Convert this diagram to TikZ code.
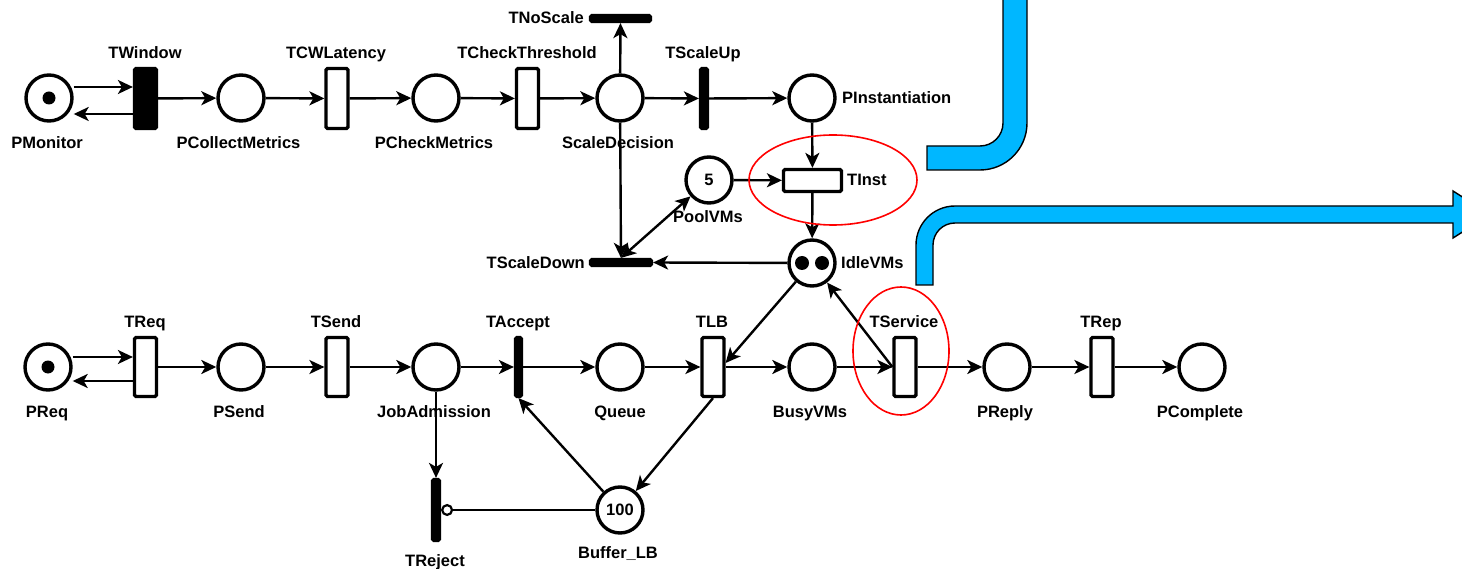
\documentclass[tikz,border=0pt]{standalone}
\usepackage{fontspec}
\setmainfont{Liberation Sans}
\usetikzlibrary{arrows.meta}
\definecolor{flowblue}{RGB}{0,183,255}
\newcommand\lblfont{\fontsize{16.5}{19}\selectfont\bfseries}
\begin{document}
\begin{tikzpicture}[x=1pt,y=-1pt,
  place/.style={circle, draw, line width=3.4pt, minimum size=46pt, inner sep=0pt, font=\lblfont},
  trans/.style={rectangle, draw, line width=3.2pt, rounded corners=1.5pt, fill=white, inner sep=0pt, minimum width=22pt, minimum height=60pt},
  imm/.style={trans, fill=black, minimum width=7pt},
  hbar/.style={trans, fill=black, minimum width=60pt, minimum height=6pt},
  lbl/.style={inner sep=0pt, font=\lblfont},
  pnarc/.style={line width=2.4pt, -{Stealth[length=15pt,width=14pt,inset=4pt]}},
  pnarcb/.style={line width=2.4pt, {Stealth[length=15pt,width=14pt,inset=4pt]}-{Stealth[length=15pt,width=14pt,inset=4pt]}},
  inhib/.style={line width=2.4pt, -{Circle[open,length=12pt,width=12pt,line width=2.2pt]}},
  token/.style={fill=black},
  hilite/.style={draw=red, line width=1.6pt},
  band/.style={draw=black, line width=1.4pt, fill=flowblue}
]
\useasboundingbox (0,0) rectangle (1462,569);
\fill[white] (0,0) rectangle (1462,569);

% ---------- blue bands ----------
\path[band] (1027,-5) -- (1027,123) arc[start angle=0,end angle=90,radius=47]
  -- (927,170) -- (927,146) -- (980,146) arc[start angle=90,end angle=0,radius=23]
  -- (1003,-5) -- cycle;
\path[band] (916,285) -- (916,245) arc[start angle=180,end angle=270,radius=39]
  -- (1453,206) -- (1453,191) -- (1490,214.5) -- (1453,238) -- (1453,223)
  -- (955,223) arc[start angle=270,end angle=180,radius=22]
  -- (933,285) -- cycle;

% ---------- top row ----------
\node[place] (PMonitor) at (49,98) {};
\node[trans, fill=black] (TWindow) at (145.5,98.5) {};
\node[place] (PCollectMetrics) at (241,98) {};
\node[trans] (TCWLatency) at (337,98.5) {};
\node[place] (PCheckMetrics) at (436,98) {};
\node[trans] (TCheckThreshold) at (527.5,98.5) {};
\node[place] (ScaleDecision) at (620,98) {};
\node[hbar] (TNoScale) at (620.5,18.5) {};
\node[imm] (TScaleUp) at (704,98.5) {};
\node[place] (PInstantiation) at (812,98) {};
\node[trans, minimum width=58pt, minimum height=22pt] (TInst) at (812.5,180.5) {};
\node[place] (PoolVMs) at (709,180) {5};
\node[place] (IdleVMs) at (812,263) {};
\node[hbar, minimum width=61pt] (TScaleDown) at (621,262.5) {};

\fill[token] (PMonitor.center) circle (6.5);
\fill[token] ([xshift=-10pt]IdleVMs.center) circle (7);
\fill[token] ([xshift=10pt]IdleVMs.center) circle (7);

% ---------- bottom row ----------
\node[place] (PReq) at (48,367) {};
\node[trans, minimum height=59pt] (TReq) at (145.5,367) {};
\node[place] (PSend) at (241,367) {};
\node[trans, minimum height=59pt] (TSend) at (337,367) {};
\node[place] (JobAdmission) at (436,367) {};
\node[imm, minimum width=6pt, minimum height=59pt] (TAccept) at (518.5,367) {};
\node[place] (Queue) at (620,367) {};
\node[trans, minimum height=59pt] (TLB) at (713,367) {};
\node[place] (BusyVMs) at (812,367) {};
\node[trans, minimum height=59pt] (TService) at (905,367) {};
\node[place] (PReply) at (1007,367) {};
\node[trans, minimum height=59pt] (TRep) at (1102,367) {};
\node[place] (PComplete) at (1202,367) {};
\node[place] (BufferLB) at (620,510) {100};
\node[imm, minimum height=61pt] (TReject) at (436,510) {};

\fill[token] (PReq.center) circle (6.5);

% ---------- labels ----------
\node[lbl, anchor=base] (lPMonitor) at (47,149) {PMonitor};
\node[lbl, anchor=base] (lTWindow) at (145,59) {TWindow};
\node[lbl, anchor=base] (lPCollectMetrics) at (238.5,149) {PCollectMetrics};
\node[lbl, anchor=base] (lTCWLatency) at (336,59) {TCWLatency};
\node[lbl, anchor=base] (lPCheckMetrics) at (434,149) {PCheckMetrics};
\node[lbl, anchor=base] (lTCheckThreshold) at (527,59) {TCheckThreshold};
\node[lbl, anchor=base] (lScaleDecision) at (618,149) {ScaleDecision};
\node[lbl, anchor=base east] (lTNoScale) at (584,24) {TNoScale};
\node[lbl, anchor=base] (lTScaleUp) at (703,59) {TScaleUp};
\node[lbl, anchor=base west] (lPInstantiation) at (842,104) {PInstantiation};
\node[lbl, anchor=base west] (lTInst) at (847,186) {TInst};
\node[lbl, anchor=base] (lPoolVMs) at (708,223) {PoolVMs};
\node[lbl, anchor=base east] (lTScaleDown) at (585,269) {TScaleDown};
\node[lbl, anchor=base west] (lIdleVMs) at (841,269) {IdleVMs};

\node[lbl, anchor=base] (lPReq) at (47,417) {PReq};
\node[lbl, anchor=base] (lTReq) at (145,328) {TReq};
\node[lbl, anchor=base] (lPSend) at (239,417) {PSend};
\node[lbl, anchor=base] (lTSend) at (336,328) {TSend};
\node[lbl, anchor=base] (lJobAdmission) at (434,417) {JobAdmission};
\node[lbl, anchor=base] (lTAccept) at (518,328) {TAccept};
\node[lbl, anchor=base] (lQueue) at (620,417) {Queue};
\node[lbl, anchor=base] (lTLB) at (712,328) {TLB};
\node[lbl, anchor=base] (lBusyVMs) at (810,417) {BusyVMs};
\node[lbl, anchor=base] (lTService) at (904,328) {TService};
\node[lbl, anchor=base] (lPReply) at (1005,417) {PReply};
\node[lbl, anchor=base] (lTRep) at (1101,328) {TRep};
\node[lbl, anchor=base] (lPComplete) at (1200,417) {PComplete};
\node[lbl, anchor=base] (lBufferLB) at (618,558) {Buffer\_LB};
\node[lbl, anchor=base] (lTReject) at (435,566) {TReject};

% ---------- arcs: top ----------
\draw[pnarc] ([yshift=11pt]PMonitor.east) -- ([yshift=11pt]PMonitor.east -| TWindow.west);
\draw[pnarc] ([yshift=-16pt]PMonitor.east -| TWindow.west) -- ([yshift=-16pt]PMonitor.east);
\draw[pnarc] (TWindow) -- (PCollectMetrics);
\draw[pnarc] (PCollectMetrics) -- (TCWLatency);
\draw[pnarc] (TCWLatency) -- (PCheckMetrics);
\draw[pnarc] (PCheckMetrics) -- (TCheckThreshold);
\draw[pnarc] (TCheckThreshold) -- (ScaleDecision);
\draw[pnarc] (ScaleDecision) -- (TNoScale.south);
\draw[pnarc] (ScaleDecision) -- (TScaleUp);
\draw[pnarc] (TScaleUp) -- (PInstantiation);
\draw[pnarc] (ScaleDecision) -- (TScaleDown.north);
\draw[pnarcb] (TScaleDown.north) -- (PoolVMs);
\draw[pnarc] (PInstantiation) -- (TInst);
\draw[pnarc] (PoolVMs) -- (TInst);
\draw[pnarc] (TInst) -- (IdleVMs);
\draw[pnarc] (IdleVMs) -- (TScaleDown.east);

% ---------- arcs: bottom ----------
\draw[pnarc] ([yshift=10pt]PReq.east) -- ([yshift=10pt]PReq.east -| TReq.west);
\draw[pnarc] ([yshift=-14pt]PReq.east -| TReq.west) -- ([yshift=-14pt]PReq.east);
\draw[pnarc] (TReq) -- (PSend);
\draw[pnarc] (PSend) -- (TSend);
\draw[pnarc] (TSend) -- (JobAdmission);
\draw[pnarc] (JobAdmission) -- (TAccept);
\draw[pnarc] (TAccept) -- (Queue);
\draw[pnarc] (Queue) -- (TLB);
\draw[pnarc] (TLB) -- (BusyVMs);
\draw[pnarc] (BusyVMs) -- (TService);
\draw[pnarc] (TService) -- (PReply);
\draw[pnarc] (PReply) -- (TRep);
\draw[pnarc] (TRep) -- (PComplete);
\draw[pnarc] (JobAdmission) -- (TReject.north);
\draw[inhib] (BufferLB) -- (TReject.east);
\draw[pnarc] (BufferLB) -- (TAccept.south);
\draw[pnarc] (TLB.south) -- (BufferLB);
\draw[pnarc] (IdleVMs) -- ([yshift=4pt]TLB.east);
\draw[pnarc] (TService.west) -- (IdleVMs);

% ---------- highlights ----------
\draw[hilite] (833,180) ellipse [x radius=84, y radius=45];
\draw[hilite] (901,351) ellipse [x radius=48, y radius=64];
\end{tikzpicture}
\end{document}
